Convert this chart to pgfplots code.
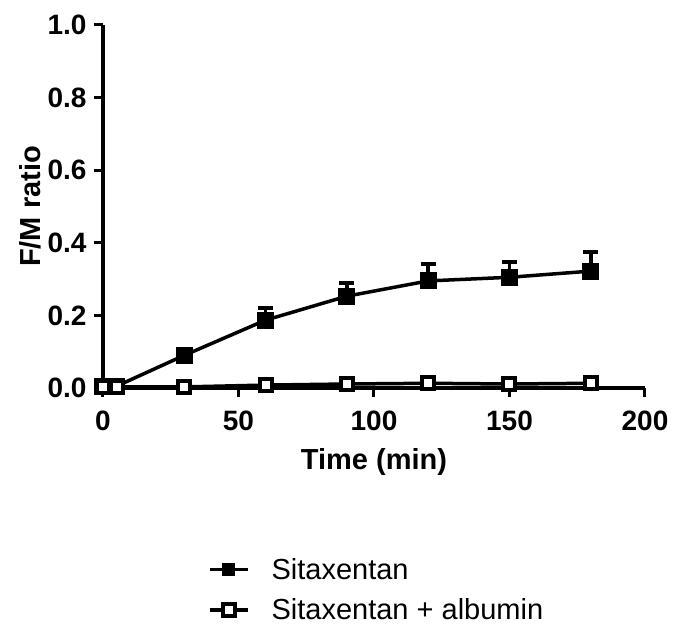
\documentclass[border=0pt]{standalone}
\usepackage{pgfplots}
\pgfplotsset{compat=1.18}
\usepackage{pgfplotstable}
\usepackage{fontspec}
\setmainfont{Liberation Sans}
\pgfplotstableread{
x y e
0 0.005 0
5 0.005 0
30 0.090 0.005
60 0.187 0.033
90 0.253 0.036
120 0.295 0.047
150 0.305 0.042
180 0.322 0.053
}\sitax
\pgfplotstableread{
x y e
0 0.003 0
5 0.003 0
30 0.003 0
60 0.008 0
90 0.011 0
120 0.013 0
150 0.011 0
180 0.013 0
}\sitaxalb
\begin{document}
\begin{tikzpicture}
\begin{axis}[
  at={(0,0)}, anchor=south west,
  scale only axis, width=542pt, height=363pt,
  xmin=0, xmax=200, ymin=0, ymax=1,
  axis x line*=bottom, axis y line*=left,
  axis line style={line width=3.5pt, black},
  xtick={0,50,100,150,200},
  ytick={0,0.2,0.4,0.6,0.8,1.0},
  tick style={line width=3pt, black},
  tick align=outside, major tick length=9pt,
  /pgf/number format/assume math mode=true,
  yticklabel style={/pgf/number format/fixed, /pgf/number format/fixed zerofill, /pgf/number format/precision=1, xshift=-4pt},
  xticklabel style={yshift=-10pt},
  ticklabel style={font=\fontsize{28}{32}\selectfont\bfseries},
  xlabel={Time (min)}, ylabel={F/M ratio},
  label style={font=\fontsize{29}{34}\selectfont\bfseries},
  xlabel style={at={(axis description cs:0.5,-0.204)}, anchor=center},
  ylabel style={at={(axis description cs:-0.135,0.5)}, anchor=center},
  clip=false,
  legend style={at={(0.188,-0.458)}, anchor=north west, draw=none, fill=none,
    font=\fontsize{29}{34}\selectfont, row sep=14pt, column sep=20pt},
  legend cell align=left,
  legend image code/.code={\draw[#1,mark repeat=2,mark phase=2,mark size=6pt] plot coordinates {(0pt,0pt) (19pt,0pt) (38pt,0pt)};},
]
\addplot[black, line width=3.5pt, mark=square*, mark size=8pt, mark options={fill=black, line width=1pt},
  error bars/.cd, y dir=plus, y explicit,
  error bar style={line width=3.5pt, black},
  error mark options={rotate=90, mark size=7.5pt, line width=4pt, black}]
  table[x=x, y=y, y error=e] {\sitax};
\addlegendentry{Sitaxentan}
\addplot[black, line width=3.5pt, mark=square*, mark size=6pt, mark options={fill=white, line width=4pt}]
  table[x=x, y=y] {\sitaxalb};
\addlegendentry{Sitaxentan + albumin}
\end{axis}
\useasboundingbox (-103pt,-237pt) rectangle (570pt,388pt);
\end{tikzpicture}
\end{document}
